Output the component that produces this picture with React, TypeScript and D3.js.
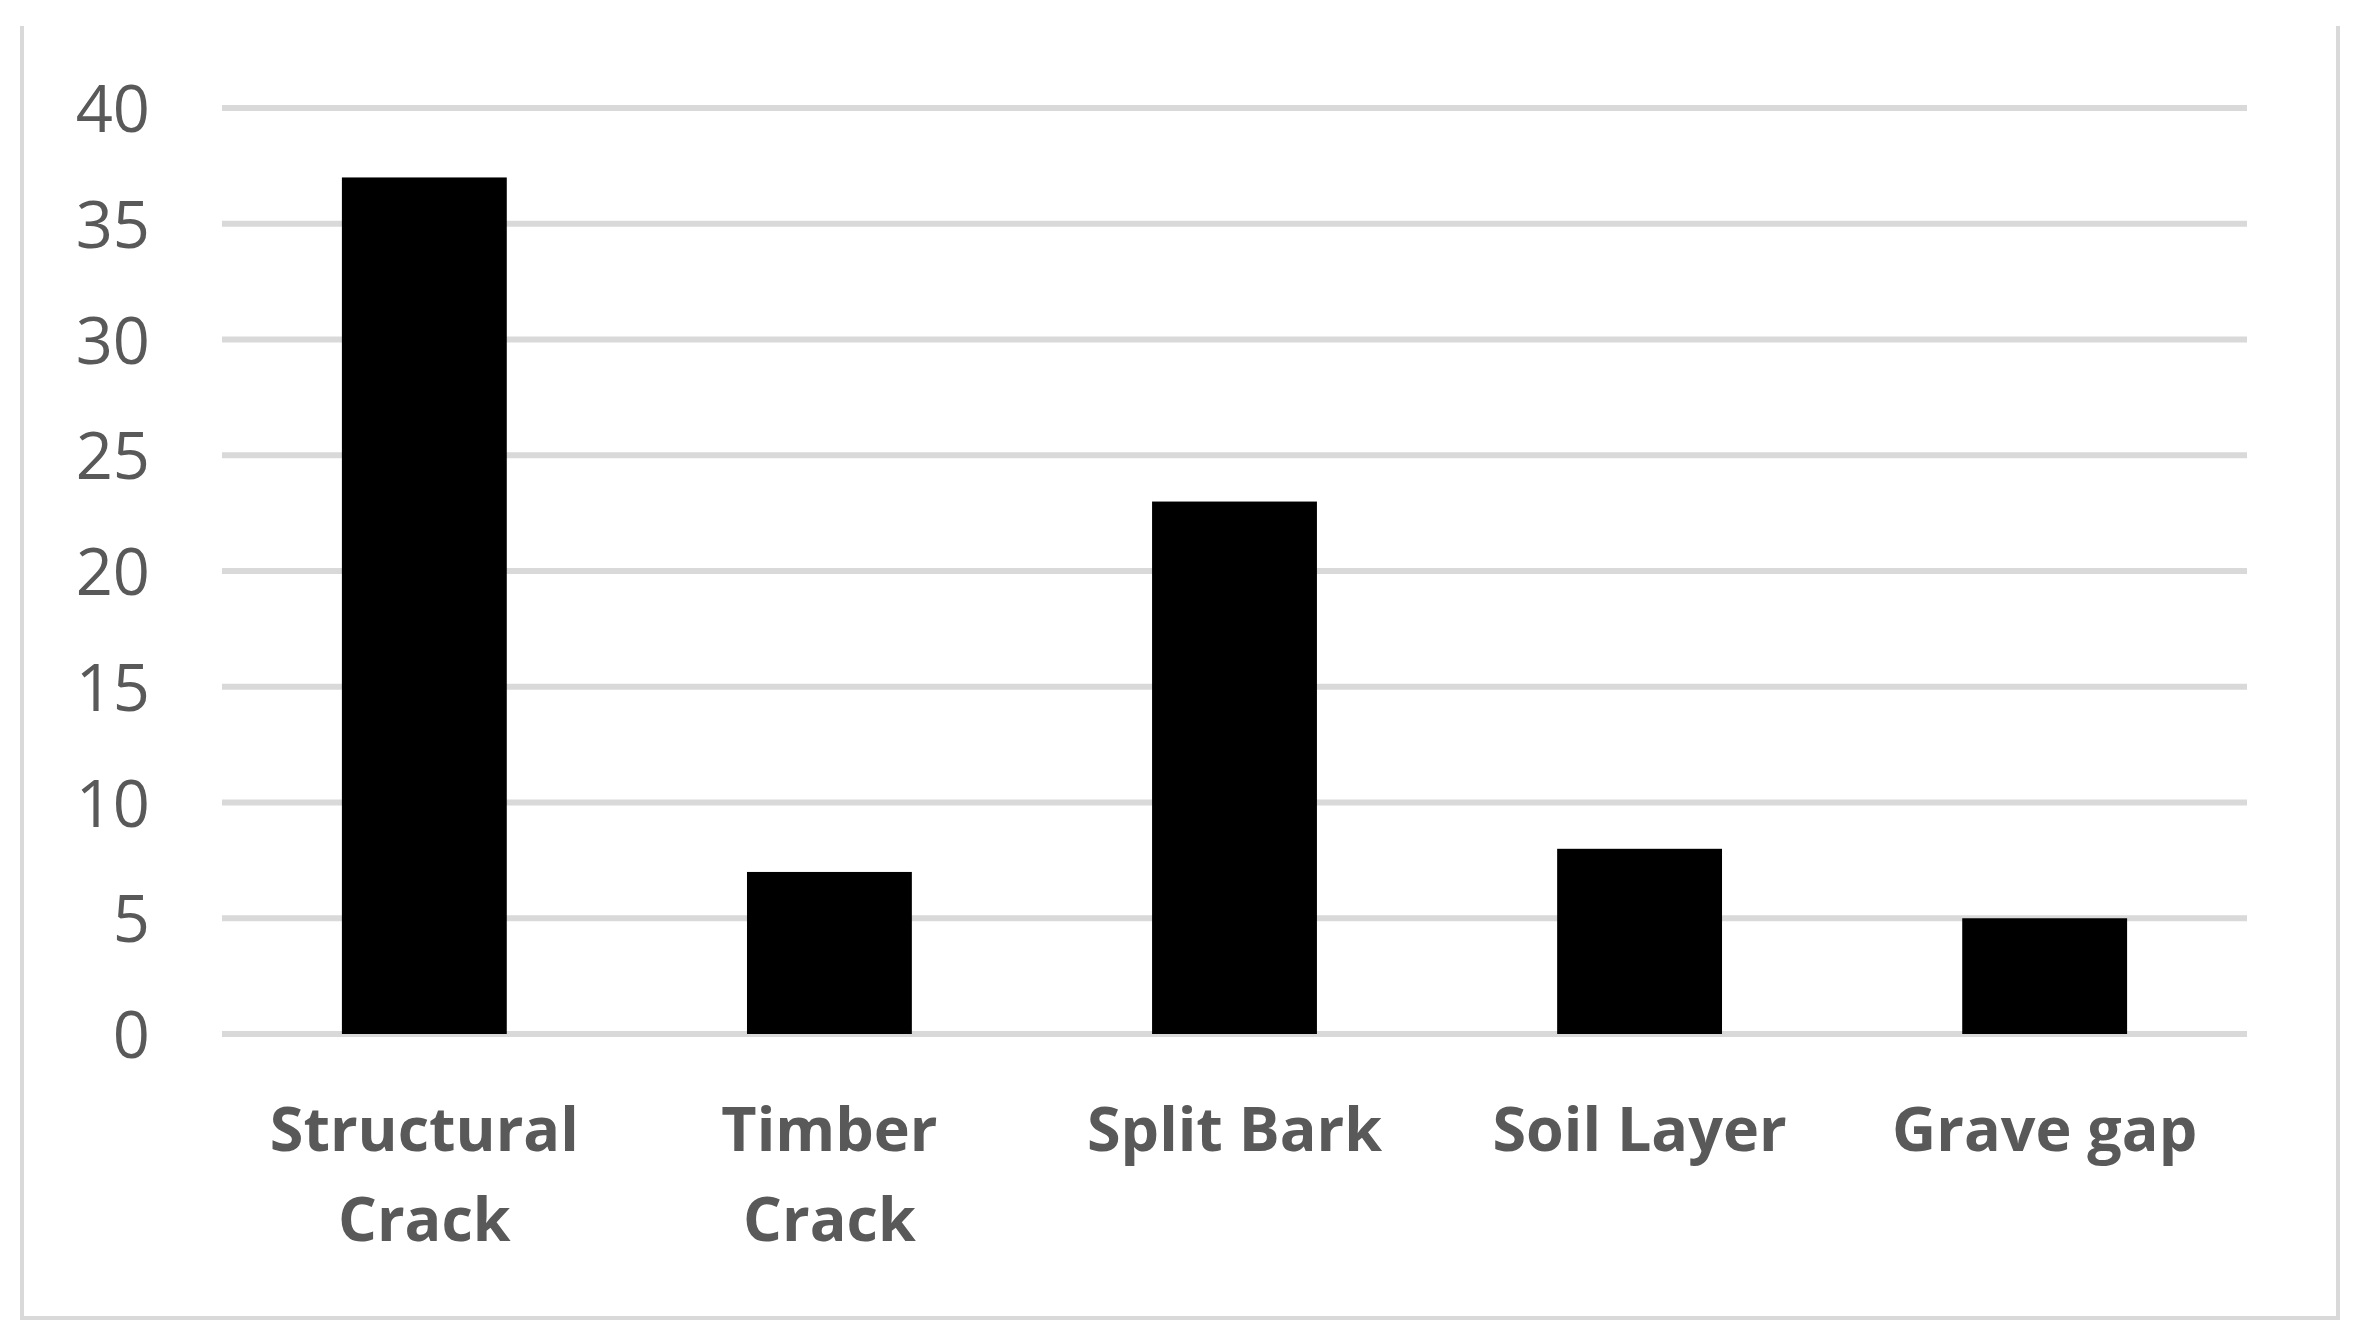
import React, { useEffect, useRef } from "react";
import * as d3 from "d3";

const categories = [["Structural", "Crack"], ["Timber", "Crack"], ["Split Bark"], ["Soil Layer"], ["Grave gap"]];
const counts = [37, 7, 23, 8, 5];
const yTicks = [0, 5, 10, 15, 20, 25, 30, 35, 40];

export default function App() {
  const ref = useRef<SVGSVGElement>(null);

  useEffect(() => {
    const width = 2357;
    const height = 1343;
    const margin = { top: 108, right: 110, bottom: 309, left: 222 };
    const names = categories.map(c => c.join(" "));

    const svg = d3.select(ref.current);
    svg.selectAll("*").remove();
    svg.attr("width", width).attr("height", height);

    svg.append("rect").attr("width", width).attr("height", height).attr("fill", "#fff");

    // chart frame (top edge is cropped off in the original)
    svg.append("path")
      .attr("d", `M22,26 V1318 H2338 V26`)
      .attr("fill", "none")
      .attr("stroke", "#d9d9d9")
      .attr("stroke-width", 4);

    const x = d3.scaleBand()
      .domain(names)
      .range([margin.left, width - margin.right])
      .paddingInner(0.593)
      .paddingOuter(0.296);

    const y = d3.scaleLinear()
      .domain([0, 40])
      .range([height - margin.bottom, margin.top]);

    svg.append("g")
      .selectAll("line")
      .data(yTicks)
      .enter()
      .append("line")
      .attr("x1", margin.left)
      .attr("x2", width - margin.right)
      .attr("y1", d => y(d))
      .attr("y2", d => y(d))
      .attr("stroke", "#d9d9d9")
      .attr("stroke-width", 6);

    svg.append("g")
      .selectAll("text")
      .data(yTicks)
      .enter()
      .append("text")
      .attr("x", 150)
      .attr("y", d => y(d) + 24)
      .attr("text-anchor", "end")
      .attr("fill", "#595959")
      .style("font-family", "'Open Sans', sans-serif")
      .style("font-size", "65px")
      .text(d => d);

    svg.append("g")
      .selectAll("rect")
      .data(counts)
      .enter()
      .append("rect")
      .attr("x", (d, i) => x(names[i])!)
      .attr("y", d => y(d))
      .attr("width", x.bandwidth())
      .attr("height", d => y(0) - y(d))
      .attr("fill", "#000");

    const labels = svg.append("g")
      .selectAll("text")
      .data(categories)
      .enter()
      .append("text")
      .attr("text-anchor", "middle")
      .attr("fill", "#595959")
      .style("font-family", "'Open Sans', sans-serif")
      .style("font-weight", "bold")
      .style("font-size", "61px");

    labels.selectAll("tspan")
      .data((d, i) => d.map(line => ({ line, name: names[i] })))
      .enter()
      .append("tspan")
      .attr("x", d => x(d.name)! + x.bandwidth() / 2)
      .attr("y", (d, j) => 1151 + j * 90)
      .text(d => d.line);
  }, []);

  return (
    <div style={{ position: "absolute", left: 0, top: 0 }}>
      <svg ref={ref} style={{ display: "block" }}></svg>
    </div>
  );
}
